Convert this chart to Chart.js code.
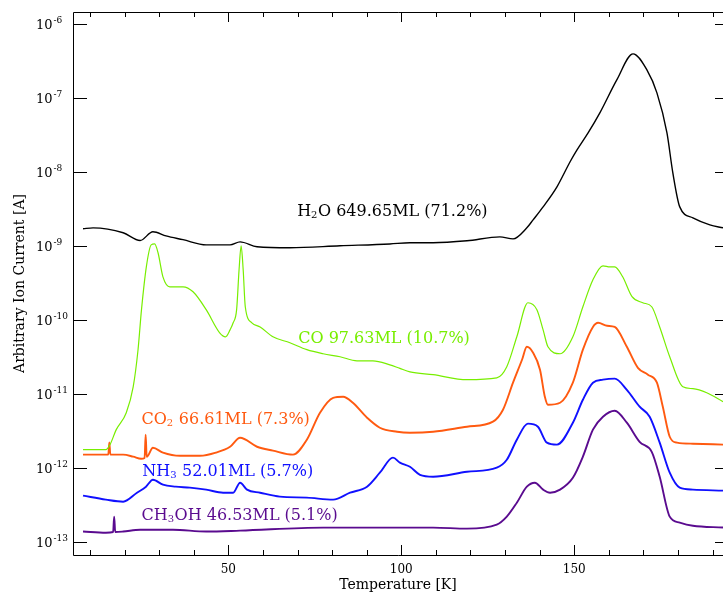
<!DOCTYPE html>
<html>
<head>
<meta charset="utf-8">
<script src="https://cdn.jsdelivr.net/npm/chart.js@4.4.0/dist/chart.umd.min.js"></script>
<style>
  html, body { margin: 0; padding: 0; background: #fff; }
  #wrap { width: 723px; height: 598px; }
</style>
</head>
<body>
<div id="wrap"><canvas id="tpd" width="723" height="598"></canvas></div>
<script>
// TPD traces: temperature [K] and ion current [A]
const h2oTemp = [8.0, 10.9, 19.6, 24.5, 28.2, 32.0, 36.9, 43.6, 50.5, 53.4, 58.3, 67.8, 82.3, 96.7, 102.5, 109.2, 119.0, 128.5, 132.3, 136.3, 138.1, 141.0, 145.0, 148.8, 150.8, 154.0, 157.4, 162.3, 167.0, 171.0, 173.9, 176.8, 178.5, 180.5, 184.3, 189.2, 193.0];
const h2oCurrent = [1.70e-9, 1.75e-9, 1.50e-9, 1.18e-9, 1.55e-9, 1.36e-9, 1.21e-9, 1.03e-9, 1.03e-9, 1.13e-9, 9.7e-10, 9.4e-10, 1.0e-9, 1.06e-9, 1.10e-9, 1.10e-9, 1.17e-9, 1.32e-9, 1.24e-9, 1.75e-9, 2.24e-9, 3.36e-9, 6.27e-9, 1.37e-8, 1.98e-8, 3.36e-8, 6.27e-8, 1.75e-7, 3.94e-7, 2.39e-7, 1.17e-7, 3.36e-8, 9.7e-9, 3.36e-9, 2.39e-9, 1.92e-9, 1.75e-9];

const coTemp = [8.0, 14.6, 15.8, 17.6, 20.5, 22.5, 23.9, 24.9, 26.3, 27.7, 28.7, 29.7, 31.1, 33.1, 36.9, 39.8, 43.6, 47.5, 49.2, 50.5, 51.4, 52.4, 53.1, 53.7, 54.3, 54.9, 56.8, 59.2, 62.9, 67.8, 72.7, 77.4, 82.3, 87.2, 91.8, 96.7, 99.6, 102.5, 109.2, 119.0, 127.6, 130.5, 133.4, 136.6, 139.2, 141.0, 142.4, 145.9, 149.6, 152.5, 155.4, 158.3, 160.3, 161.7, 164.0, 166.7, 169.8, 172.4, 174.7, 177.6, 181.4, 184.3, 188.3, 193.0];
const coCurrent = [1.75e-12, 1.75e-12, 2.05e-12, 3.27e-12, 5.54e-12, 1.24e-11, 3.94e-11, 1.37e-10, 5.2e-10, 1.03e-9, 1.06e-9, 8.0e-10, 3.81e-10, 2.79e-10, 2.79e-10, 2.39e-10, 1.37e-10, 6.67e-11, 5.89e-11, 7.3e-11, 9.1e-11, 1.37e-10, 4.7e-10, 1.0e-9, 4.7e-10, 1.5e-10, 9.1e-11, 8.0e-11, 5.89e-11, 4.89e-11, 3.94e-11, 3.47e-11, 3.16e-11, 2.79e-11, 2.79e-11, 2.46e-11, 2.2e-11, 1.98e-11, 1.81e-11, 1.55e-11, 1.64e-11, 2.32e-11, 5.89e-11, 1.70e-10, 1.37e-10, 7.3e-11, 4.31e-11, 3.47e-11, 5.89e-11, 1.50e-10, 3.47e-10, 5.37e-10, 5.2e-10, 5.2e-10, 3.81e-10, 2.05e-10, 1.70e-10, 1.50e-10, 8.0e-11, 3.16e-11, 1.24e-11, 1.17e-11, 1.03e-11, 7.8e-12];

const co2Temp = [8.0, 14.6, 15.3, 15.6, 15.9, 19.6, 22.5, 24.8, 25.8, 26.1, 26.4, 28.2, 31.1, 36.0, 41.8, 46.4, 50.5, 53.4, 58.3, 62.9, 68.7, 72.7, 76.5, 80.3, 83.2, 86.0, 90.1, 93.8, 98.8, 102.5, 109.2, 119.0, 126.5, 129.4, 132.3, 134.9, 136.3, 138.1, 140.1, 141.5, 142.4, 145.9, 149.6, 152.5, 155.4, 156.9, 159.5, 161.7, 165.2, 168.4, 171.3, 173.9, 175.6, 177.6, 179.7, 184.3, 193.0];
const co2Current = [1.50e-12, 1.50e-12, 1.50e-12, 2.2e-12, 1.50e-12, 1.50e-12, 1.41e-12, 1.32e-12, 1.35e-12, 2.8e-12, 1.4e-12, 1.86e-12, 1.60e-12, 1.45e-12, 1.45e-12, 1.60e-12, 1.92e-12, 2.54e-12, 1.92e-12, 1.70e-12, 1.50e-12, 2.39e-12, 5.54e-12, 8.8e-12, 9.1e-12, 7.55e-12, 4.74e-12, 3.47e-12, 3.06e-12, 2.97e-12, 3.06e-12, 3.58e-12, 4.19e-12, 6.08e-12, 1.41e-11, 2.88e-11, 4.31e-11, 3.58e-11, 2.11e-11, 9.1e-12, 7.1e-12, 7.55e-12, 1.41e-11, 3.94e-11, 8.0e-11, 9.1e-11, 8.3e-11, 8.0e-11, 4.31e-11, 2.24e-11, 1.81e-11, 1.41e-11, 6.67e-12, 2.62e-12, 2.18e-12, 2.11e-12, 2.05e-12];

const nh3Temp = [8.0, 14.6, 19.6, 23.6, 26.2, 28.2, 31.1, 34.8, 38.9, 43.6, 48.5, 51.4, 53.4, 55.4, 59.2, 64.9, 72.7, 80.3, 85.2, 90.1, 93.8, 97.6, 99.6, 102.5, 105.4, 109.2, 119.0, 127.6, 130.5, 133.4, 136.6, 139.5, 142.1, 145.0, 149.6, 152.5, 155.4, 158.3, 161.7, 165.2, 168.9, 171.8, 174.7, 177.6, 180.5, 184.3, 193.0];
const nh3Current = [4.19e-13, 3.70e-13, 3.47e-13, 4.59e-13, 5.54e-13, 6.88e-13, 5.89e-13, 5.54e-13, 5.37e-13, 5.05e-13, 4.59e-13, 4.59e-13, 6.27e-13, 5.05e-13, 4.59e-13, 4.06e-13, 3.94e-13, 3.70e-13, 4.59e-13, 5.54e-13, 8.55e-13, 1.37e-12, 1.17e-12, 1.03e-12, 8.0e-13, 7.55e-13, 8.8e-13, 1.0e-12, 1.28e-12, 2.39e-12, 3.94e-12, 3.58e-12, 2.18e-12, 2.05e-12, 4.06e-12, 8.3e-12, 1.41e-11, 1.55e-11, 1.60e-11, 1.13e-11, 6.67e-12, 4.89e-12, 2.18e-12, 8.55e-13, 5.37e-13, 5.05e-13, 4.89e-13];

const ch3ohTemp = [8.0, 14.6, 16.7, 17.0, 17.3, 19.6, 24.5, 34.0, 43.6, 53.4, 77.4, 102.5, 109.2, 119.0, 127.6, 130.5, 133.4, 136.3, 138.6, 141.0, 143.0, 145.9, 149.6, 152.5, 155.4, 158.3, 161.7, 165.2, 168.9, 172.4, 174.7, 177.6, 180.5, 184.3, 193.0];
const ch3ohCurrent = [1.37e-13, 1.32e-13, 1.35e-13, 2.18e-13, 1.35e-13, 1.37e-13, 1.45e-13, 1.45e-13, 1.37e-13, 1.41e-13, 1.55e-13, 1.55e-13, 1.55e-13, 1.50e-13, 1.70e-13, 2.18e-13, 3.36e-13, 5.54e-13, 6.27e-13, 5.05e-13, 4.59e-13, 5.05e-13, 7.3e-13, 1.41e-12, 3.27e-12, 4.89e-12, 5.89e-12, 4.06e-12, 2.24e-12, 1.64e-12, 7.55e-13, 2.18e-13, 1.81e-13, 1.64e-13, 1.55e-13];

// axis ticks
const xMajorTicks = [50, 100, 150];
const xMinorTicks = [10, 20, 30, 40, 60, 70, 80, 90, 110, 120, 130, 140, 160, 170, 180, 190];
const yDecades = [-13, -12, -11, -10, -9, -8, -7, -6];

const FONT = '"DejaVu Serif", "Liberation Serif", serif';

// species labels: text pieces [text, isSubscript], anchored at (K, A) baseline-left
const speciesLabels = [
  { parts: [['H', 0], ['2', 1], ['O 649.65ML (71.2%)', 0]], t: 69.9, v: 2.54e-9, color: '#000000' },
  { parts: [['CO 97.63ML (10.7%)', 0]], t: 70.2, v: 4.89e-11, color: '#78ee00' },
  { parts: [['CO', 0], ['2', 1], [' 66.61ML (7.3%)', 0]], t: 24.9, v: 3.94e-12, color: '#ff5a10' },
  { parts: [['NH', 0], ['3', 1], [' 52.01ML (5.7%)', 0]], t: 25.1, v: 7.8e-13, color: '#1010ff' },
  { parts: [['CH', 0], ['3', 1], ['OH 46.53ML (5.1%)', 0]], t: 24.9, v: 1.94e-13, color: '#5a0b8f' }
];

function series(temps, vals) {
  return temps.map((t, i) => ({ x: t, y: vals[i] }));
}

const framePlugin = {
  id: 'frame',
  afterDatasetsDraw(chart) {
    const { ctx, chartArea: a, scales: { x, y } } = chart;
    ctx.save();
    ctx.strokeStyle = '#000';
    ctx.lineWidth = 1;
    ctx.beginPath();
    ctx.moveTo(a.right, a.top + 0.5);
    ctx.lineTo(a.left + 0.5, a.top + 0.5);
    ctx.lineTo(a.left + 0.5, a.bottom + 0.5);
    ctx.lineTo(a.right, a.bottom + 0.5);
    // inward ticks
    yDecades.forEach(e => {
      const py = Math.round(y.getPixelForValue(Math.pow(10, e))) + 0.5;
      ctx.moveTo(a.left, py); ctx.lineTo(a.left + 14, py);
      ctx.moveTo(a.right - 8, py); ctx.lineTo(a.right, py);
    });
    xMajorTicks.forEach(v => {
      const px = Math.round(x.getPixelForValue(v)) + 0.5;
      ctx.moveTo(px, a.bottom); ctx.lineTo(px, a.bottom - 10);
      ctx.moveTo(px, a.top); ctx.lineTo(px, a.top + 10);
    });
    xMinorTicks.forEach(v => {
      const px = Math.round(x.getPixelForValue(v)) + 0.5;
      ctx.moveTo(px, a.bottom); ctx.lineTo(px, a.bottom - 5);
      ctx.moveTo(px, a.top); ctx.lineTo(px, a.top + 5);
    });
    ctx.stroke();

    // y tick labels 10^n
    ctx.fillStyle = '#000';
    ctx.textBaseline = 'alphabetic';
    ctx.textAlign = 'left';
    yDecades.forEach(e => {
      const py = y.getPixelForValue(Math.pow(10, e));
      ctx.font = '13px ' + FONT;
      ctx.fillText('10', 36, py + 5);
      const w = ctx.measureText('10').width;
      ctx.font = '9px ' + FONT;
      ctx.fillText(String(e), 36 + w + 1, py - 1);
    });

    // species labels
    speciesLabels.forEach(lab => {
      let px = x.getPixelForValue(lab.t);
      const py = y.getPixelForValue(lab.v);
      ctx.fillStyle = lab.color;
      lab.parts.forEach(([txt, sub]) => {
        ctx.font = (sub ? '10px ' : '16px ') + FONT;
        ctx.fillText(txt, px, py + (sub ? 2 : 0));
        px += ctx.measureText(txt).width + (sub ? 0.5 : 0);
      });
    });
    ctx.restore();
  }
};

const lineStyle = { pointRadius: 0, fill: false, cubicInterpolationMode: 'monotone' };

new Chart(document.getElementById('tpd'), {
  type: 'line',
  data: {
    datasets: [
      { label: 'H2O', data: series(h2oTemp, h2oCurrent), borderColor: '#000000', borderWidth: 1.4, ...lineStyle },
      { label: 'CO', data: series(coTemp, coCurrent), borderColor: '#78ee00', borderWidth: 1.2, ...lineStyle },
      { label: 'CO2', data: series(co2Temp, co2Current), borderColor: '#ff5a10', borderWidth: 1.9, ...lineStyle },
      { label: 'NH3', data: series(nh3Temp, nh3Current), borderColor: '#1010ff', borderWidth: 1.9, ...lineStyle },
      { label: 'CH3OH', data: series(ch3ohTemp, ch3ohCurrent), borderColor: '#5a0b8f', borderWidth: 1.9, ...lineStyle }
    ]
  },
  options: {
    responsive: false,
    animation: false,
    devicePixelRatio: 1,
    layout: { padding: { top: 12, right: 0, left: 0, bottom: 0 } },
    plugins: { legend: { display: false }, tooltip: { enabled: false } },
    scales: {
      x: {
        type: 'linear', min: 5.1, max: 193,
        grid: { display: false, drawTicks: false },
        border: { display: false },
        afterBuildTicks: s => { s.ticks = xMajorTicks.map(v => ({ value: v })); },
        afterFit: s => { s.height = 43; },
        ticks: { font: { family: FONT, size: 12 }, color: '#000', padding: 8, maxRotation: 0 },
        title: { display: true, text: 'Temperature [K]', color: '#000', font: { family: FONT, size: 14 }, padding: { top: 0, bottom: 4 } }
      },
      y: {
        type: 'logarithmic', min: 6.6e-14, max: 1.45e-6,
        grid: { display: false, drawTicks: false },
        border: { display: false },
        ticks: { display: false },
        afterFit: s => { s.width = 73; },
        title: { display: true, text: 'Arbitrary Ion Current [A]', color: '#000', font: { family: FONT, size: 14 }, padding: { top: 12, bottom: 0 } }
      }
    }
  },
  plugins: [framePlugin]
});
</script>
</body>
</html>
